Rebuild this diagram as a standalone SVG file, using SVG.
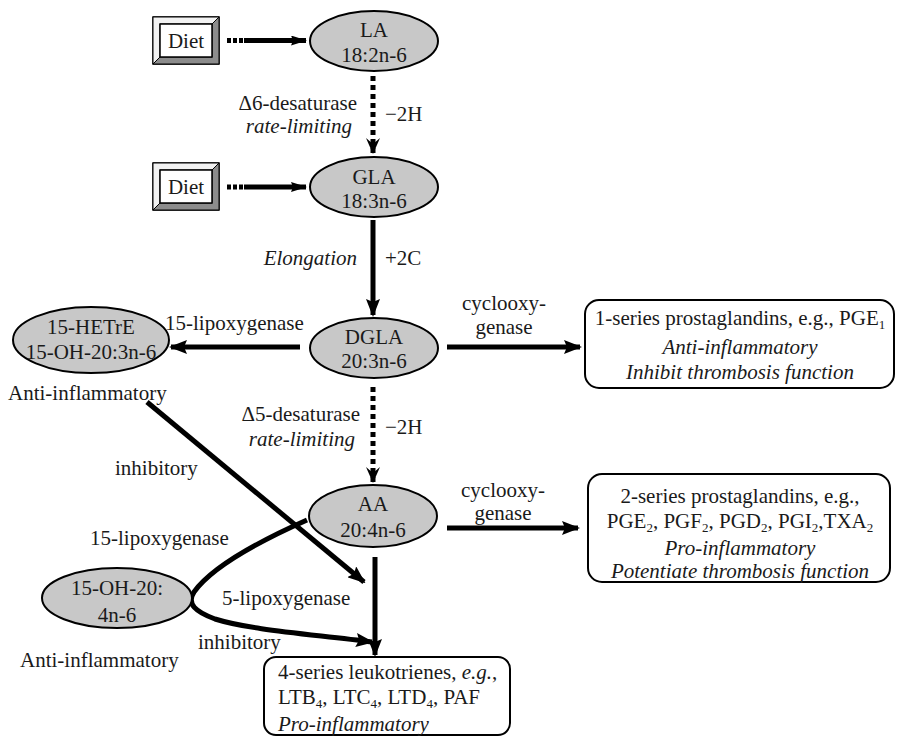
<svg xmlns="http://www.w3.org/2000/svg" width="907" height="738" viewBox="0 0 907 738" font-family="'Liberation Serif', 'Times New Roman', 'DejaVu Serif', serif">
<style>
text{font-family:'Liberation Serif','Times New Roman','DejaVu Serif',serif;font-size:21px;fill:#1a1a1a}
.c{text-anchor:middle}
.r{text-anchor:end}
.i{font-style:italic}
.sub{font-size:13px}
.ell{fill:#c8c8c8;stroke:#000;stroke-width:2}
.box{fill:#fff;stroke:#000;stroke-width:2}
.ln{fill:none;stroke:#000;stroke-width:5}
.dot{fill:none;stroke:#000;stroke-width:5;stroke-dasharray:5 4}
</style>
<defs>
<marker id="ah" viewBox="0 0 18 14" refX="16" refY="7" markerWidth="18" markerHeight="14" markerUnits="userSpaceOnUse" orient="auto">
<path d="M0,0 L18,7 L0,14 L3,7 z" fill="#000"/>
</marker>
<marker id="ahs" viewBox="0 0 16 10" refX="15" refY="5" markerWidth="16" markerHeight="10" markerUnits="userSpaceOnUse" orient="auto">
<path d="M0,0 L16,5 L0,10 L2,5 z" fill="#000"/>
</marker>
<marker id="ahd" viewBox="0 0 16 14" refX="15" refY="7" markerWidth="16" markerHeight="14" markerUnits="userSpaceOnUse" orient="auto">
<path d="M0,0 L16,7 L0,14 L6,7 z" fill="#000"/>
</marker>
<g id="dietbox">
<rect x="0" y="0" width="66" height="47" fill="#fff" stroke="#000" stroke-width="1.5"/>
<path d="M0,0 H66 L59,7 H7 V40 L0,47 z" fill="#f2f2f2" stroke="#000" stroke-width="1"/>
<path d="M66,0 V47 H0 L7,40 H59 V7 z" fill="#8c8c8c" stroke="#000" stroke-width="1"/>
<rect x="7" y="7" width="52" height="33" fill="#fff" stroke="#000" stroke-width="1.5"/>
</g>
</defs>
<rect width="907" height="738" fill="#fff"/>

<g id="connectors">
<path class="ln" d="M227,40.5 H306" stroke-dasharray="4 2 4 2 4 1 200" marker-end="url(#ahs)"/>
<path class="ln" d="M227,187 H306" stroke-dasharray="4 2 4 2 4 1 200" marker-end="url(#ahs)"/>
<path class="dot" d="M373,76 V153" marker-end="url(#ahd)"/>
<path class="ln" d="M373,220 V315" marker-end="url(#ah)"/>
<path class="ln" d="M300,347 H171" marker-end="url(#ah)"/>
<path class="ln" d="M447,347 H580" marker-end="url(#ah)"/>
<path class="dot" d="M373,387 V482" marker-end="url(#ahd)"/>
<path class="ln" d="M447,528 H578" marker-end="url(#ah)"/>
<path class="ln" d="M375,557 V655" marker-end="url(#ah)"/>
<path class="ln" d="M147,402 L364,582" marker-end="url(#ah)"/>
<path class="ln" d="M307,520 C262,540 212,567 194,592 C186,604 196,612 215,619 C250,630 310,634 372,642" marker-end="url(#ah)"/>
</g>

<g id="diet1"><use href="#dietbox" x="153" y="17"/><text class="c" x="186" y="48">Diet</text></g>
<g id="diet2"><use href="#dietbox" x="153" y="163"/><text class="c" x="186" y="194">Diet</text></g>

<g id="la"><ellipse class="ell" cx="374" cy="41" rx="64" ry="30"/><text class="c" x="374" y="37">LA</text><text class="c" x="374" y="62">18:2n-6</text></g>
<g id="gla"><ellipse class="ell" cx="374" cy="187" rx="64" ry="30"/><text class="c" x="374" y="184">GLA</text><text class="c" x="374" y="208">18:3n-6</text></g>
<g id="dgla"><ellipse class="ell" cx="374" cy="348" rx="64" ry="30"/><text class="c" x="374" y="344">DGLA</text><text class="c" x="374" y="368">20:3n-6</text></g>
<g id="aa"><ellipse class="ell" cx="373" cy="516" rx="64" ry="31"/><text class="c" x="373" y="511">AA</text><text class="c" x="373" y="537">20:4n-6</text></g>
<g id="hetre"><ellipse class="ell" cx="91" cy="340" rx="78" ry="33"/><text class="c" x="91" y="334">15-HETrE</text><text class="c" x="91" y="359">15-OH-20:3n-6</text></g>
<g id="oh20"><ellipse class="ell" cx="117" cy="598" rx="75" ry="30"/><text class="c" x="117" y="595">15-OH-20:</text><text class="c" x="117" y="622">4n-6</text></g>

<g id="box1"><rect class="box" x="585" y="300" width="309" height="88" rx="14"/>
<text class="c" x="740" y="325">1-series prostaglandins, e.g., PGE<tspan class="sub" dy="4">1</tspan></text>
<text class="c i" x="740" y="354">Anti-inflammatory</text>
<text class="c i" x="740" y="379">Inhibit thrombosis function</text></g>

<g id="box2"><rect class="box" x="588" y="474" width="302" height="108" rx="14"/>
<text class="c" x="740" y="503">2-series prostaglandins, e.g.,</text>
<text class="c" x="740" y="528">PGE<tspan class="sub" dy="4">2</tspan><tspan dy="-4">, PGF</tspan><tspan class="sub" dy="4">2</tspan><tspan dy="-4">, PGD</tspan><tspan class="sub" dy="4">2</tspan><tspan dy="-4">, PGI</tspan><tspan class="sub" dy="4">2</tspan><tspan dy="-4">,TXA</tspan><tspan class="sub" dy="4">2</tspan></text>
<text class="c i" x="740" y="555">Pro-inflammatory</text>
<text class="c i" x="740" y="578">Potentiate thrombosis function</text></g>

<g id="box3"><rect class="box" x="264" y="657" width="246" height="78" rx="12"/>
<text x="278" y="679">4-series leukotrienes, <tspan class="i">e.g.</tspan>,</text>
<text x="278" y="704">LTB<tspan class="sub" dy="4">4</tspan><tspan dy="-4">, LTC</tspan><tspan class="sub" dy="4">4</tspan><tspan dy="-4">, LTD</tspan><tspan class="sub" dy="4">4</tspan><tspan dy="-4">, PAF</tspan></text>
<text class="i" x="278" y="731">Pro-inflammatory</text></g>

<g id="labels">
<text class="r" x="357" y="110">Δ6-desaturase</text>
<text class="r i" x="352" y="133">rate-limiting</text>
<text x="385" y="121">−2H</text>
<text class="r i" x="357" y="265">Elongation</text>
<text x="385" y="265">+2C</text>
<text x="165" y="330">15-lipoxygenase</text>
<text x="8" y="400">Anti-inflammatory</text>
<text class="c" x="504" y="310">cyclooxy-</text>
<text class="c" x="504" y="334">genase</text>
<text class="r" x="360" y="421">Δ5-desaturase</text>
<text class="r i" x="355" y="446">rate-limiting</text>
<text x="385" y="434">−2H</text>
<text x="115" y="475">inhibitory</text>
<text class="c" x="503" y="497">cyclooxy-</text>
<text class="c" x="503" y="520">genase</text>
<text x="90" y="545">15-lipoxygenase</text>
<text x="222" y="605">5-lipoxygenase</text>
<text x="198" y="649">inhibitory</text>
<text x="20" y="667">Anti-inflammatory</text>
</g>
</svg>
